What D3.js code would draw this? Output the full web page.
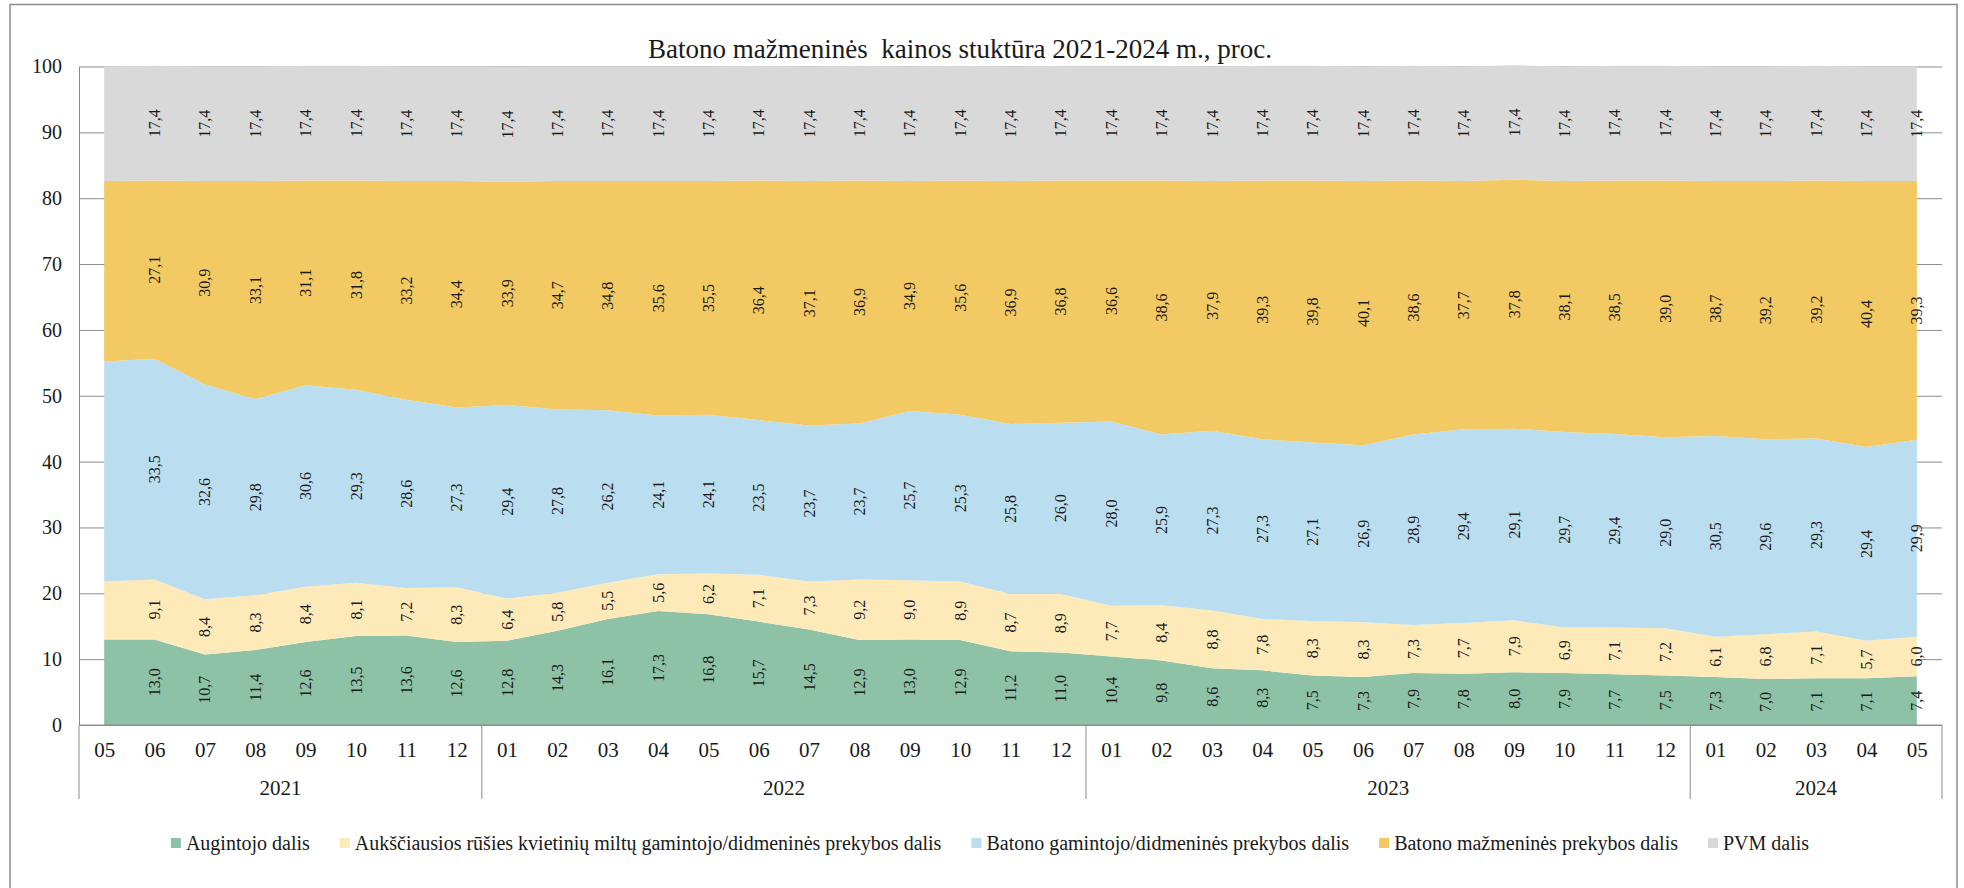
<!DOCTYPE html>
<html>
<head>
<meta charset="utf-8">
<script src="https://cdn.jsdelivr.net/npm/d3@7"></script>
<style>
  body { margin: 0; background: #fff; }
  text { font-family: "Liberation Serif", "Times New Roman", serif; fill: #1a1a1a; }
</style>
</head>
<body>
<svg id="chart" width="1964" height="888"></svg>
<script>
// periods (year-month)
var periods = [
  "2021-05","2021-06","2021-07","2021-08","2021-09","2021-10","2021-11","2021-12",
  "2022-01","2022-02","2022-03","2022-04","2022-05","2022-06","2022-07","2022-08","2022-09","2022-10","2022-11","2022-12",
  "2023-01","2023-02","2023-03","2023-04","2023-05","2023-06","2023-07","2023-08","2023-09","2023-10","2023-11","2023-12",
  "2024-01","2024-02","2024-03","2024-04","2024-05"
];

// shares, proc. (first month has no labels in the original, read from the area)
var augintojo = [13.0,13.0,10.7,11.4,12.6,13.5,13.6,12.6,
  12.8,14.3,16.1,17.3,16.8,15.7,14.5,12.9,13.0,12.9,11.2,11.0,
  10.4,9.8,8.6,8.3,7.5,7.3,7.9,7.8,8.0,7.9,7.7,7.5,
  7.3,7.0,7.1,7.1,7.4];
var miltai = [8.8,9.1,8.4,8.3,8.4,8.1,7.2,8.3,
  6.4,5.8,5.5,5.6,6.2,7.1,7.3,9.2,9.0,8.9,8.7,8.9,
  7.7,8.4,8.8,7.8,8.3,8.3,7.3,7.7,7.9,6.9,7.1,7.2,
  6.1,6.8,7.1,5.7,6.0];
var gamintojo = [33.4,33.5,32.6,29.8,30.6,29.3,28.6,27.3,
  29.4,27.8,26.2,24.1,24.1,23.5,23.7,23.7,25.7,25.3,25.8,26.0,
  28.0,25.9,27.3,27.3,27.1,26.9,28.9,29.4,29.1,29.7,29.4,29.0,
  30.5,29.6,29.3,29.4,29.9];
var mazmenine = [27.4,27.1,30.9,33.1,31.1,31.8,33.2,34.4,
  33.9,34.7,34.8,35.6,35.5,36.4,37.1,36.9,34.9,35.6,36.9,36.8,
  36.6,38.6,37.9,39.3,39.8,40.1,38.6,37.7,37.8,38.1,38.5,39.0,
  38.7,39.2,39.2,40.4,39.3];
var pvm = [17.4,17.4,17.4,17.4,17.4,17.4,17.4,17.4,
  17.4,17.4,17.4,17.4,17.4,17.4,17.4,17.4,17.4,17.4,17.4,17.4,
  17.4,17.4,17.4,17.4,17.4,17.4,17.4,17.4,17.4,17.4,17.4,17.4,
  17.4,17.4,17.4,17.4,17.4];

var seriesNames = [
  "Augintojo dalis",
  "Aukščiausios rūšies kvietinių miltų gamintojo/didmeninės prekybos dalis",
  "Batono gamintojo/didmeninės prekybos dalis",
  "Batono mažmeninės prekybos dalis",
  "PVM dalis"
];
var colors = ["#8dc2a6", "#fdeab8", "#badeef", "#f2c963", "#d9d9d9"];
var yTicks = [0, 10, 20, 30, 40, 50, 60, 70, 80, 90, 100];

var svg = d3.select("#chart");

// plot area
var plotLeft = 79, plotRight = 1942, plotTop = 66.5, plotBottom = 725;

var keys = ["s0", "s1", "s2", "s3", "s4"];
var data = periods.map(function(p, i) {
  return {i: i, s0: augintojo[i], s1: miltai[i], s2: gamintojo[i], s3: mazmenine[i], s4: pvm[i]};
});

var xScale = d3.scalePoint()
  .domain(d3.range(periods.length))
  .range([plotLeft, plotRight])
  .padding(0.5);
var bw = xScale.step();

var yScale = d3.scaleLinear()
  .domain([0, 100])
  .range([plotBottom, plotTop]);

// chart border
svg.append("rect")
  .attr("x", 10)
  .attr("y", 4.5)
  .attr("width", 1947)
  .attr("height", 900)
  .attr("fill", "none")
  .attr("stroke", "#8a8a8a")
  .attr("stroke-width", 1.5);

// title
svg.append("text")
  .attr("x", 960)
  .attr("y", 58)
  .attr("text-anchor", "middle")
  .style("white-space", "pre")
  .style("font-size", "27px")
  .text("Batono mažmeninės  kainos stuktūra 2021-2024 m., proc.");

// gridlines
var grid = svg.append("g")
  .attr("transform", "translate(" + plotLeft + ",0)")
  .call(d3.axisLeft(yScale)
    .tickValues(yTicks)
    .tickSize(-(plotRight - plotLeft))
    .tickFormat(""));
grid.select(".domain").remove();
grid.selectAll("line").attr("stroke", "#8c8c8c");

// stacked areas
var stacked = d3.stack().keys(keys)(data);

var area = d3.area()
  .x(function(d) { return xScale(d.data.i); })
  .y0(function(d) { return yScale(d[0]); })
  .y1(function(d) { return yScale(d[1]); });

svg.append("g")
  .selectAll("path")
  .data(stacked)
  .enter()
  .append("path")
  .attr("d", area)
  .attr("fill", function(d, k) { return colors[k]; });

// value labels (none on the first month)
var fmt = d3.format(".1f");
stacked.forEach(function(layer) {
  svg.append("g")
    .selectAll("text")
    .data(layer.filter(function(d) { return d.data.i > 0; }))
    .enter()
    .append("text")
    .attr("transform", function(d) {
      return "translate(" + xScale(d.data.i) + "," + yScale((d[0] + d[1]) / 2) + ") rotate(-90)";
    })
    .attr("text-anchor", "middle")
    .attr("dy", "0.35em")
    .style("font-size", "16px")
    .text(function(d) { return fmt(d[1] - d[0]).replace(".", ","); });
});

// y axis
var yAxis = svg.append("g")
  .attr("transform", "translate(" + plotLeft + ",0)")
  .call(d3.axisLeft(yScale).tickValues(yTicks).tickSize(0).tickPadding(17));
yAxis.select(".domain").attr("stroke", "#8c8c8c");
yAxis.selectAll("text")
  .style("font-size", "20px")
  .style("font-family", "Liberation Serif")
  .attr("fill", "#1a1a1a");

// x axis (months)
var xAxis = svg.append("g")
  .attr("transform", "translate(0," + plotBottom + ")")
  .call(d3.axisBottom(xScale)
    .tickSize(0)
    .tickSizeOuter(0)
    .tickPadding(17)
    .tickFormat(function(i) { return periods[i].slice(5); }));
xAxis.select(".domain")
  .attr("d", "M" + plotLeft + ",0H" + plotRight)
  .attr("stroke", "#8c8c8c");
xAxis.selectAll("text")
  .style("font-size", "21px")
  .style("font-family", "Liberation Serif")
  .attr("fill", "#1a1a1a");

// year groups
var years = d3.groups(data, function(d) { return periods[d.i].slice(0, 4); });
var groupG = svg.append("g");
years.forEach(function(g) {
  var first = g[1][0].i, last = g[1][g[1].length - 1].i;
  var x0 = xScale(first) - bw / 2;
  groupG.append("line")
    .attr("x1", x0).attr("x2", x0)
    .attr("y1", plotBottom).attr("y2", 799)
    .attr("stroke", "#8c8c8c");
  groupG.append("text")
    .attr("x", (xScale(first) + xScale(last)) / 2)
    .attr("y", 795)
    .attr("text-anchor", "middle")
    .style("font-size", "21px")
    .text(g[0]);
});
groupG.append("line")
  .attr("x1", plotRight).attr("x2", plotRight)
  .attr("y1", plotBottom).attr("y2", 799)
  .attr("stroke", "#8c8c8c");

// legend
var legend = svg.append("g");
var lx = 0, gap = 30;
seriesNames.forEach(function(name, k) {
  legend.append("rect")
    .attr("x", lx)
    .attr("y", -5)
    .attr("width", 10)
    .attr("height", 10)
    .attr("fill", colors[k]);
  var t = legend.append("text")
    .attr("x", lx + 15)
    .attr("y", 0)
    .attr("dy", "0.33em")
    .style("font-size", "20px")
    .text(name);
  lx += 15 + t.node().getComputedTextLength() + gap;
});
lx -= gap;
legend.attr("transform", "translate(" + (990 - lx / 2) + ",843)");
</script>
</body>
</html>
